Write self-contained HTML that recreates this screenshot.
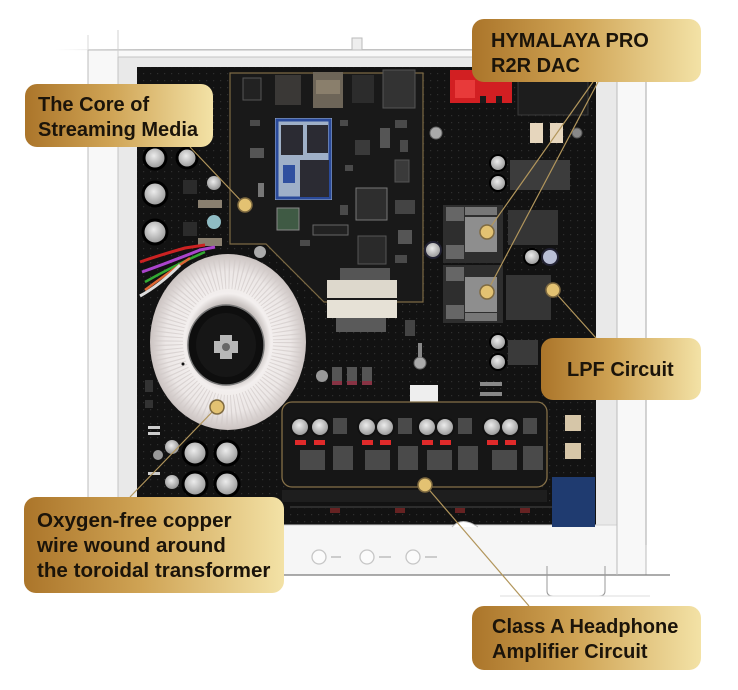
<!DOCTYPE html>
<html><head><meta charset="utf-8">
<style>
html,body{margin:0;padding:0;background:#fff;}
svg{display:block;}
text.l{font-family:"Liberation Sans",Arial,sans-serif;font-weight:bold;font-size:20px;fill:#1b140a;}
</style></head><body>
<svg width="738" height="690" viewBox="0 0 738 690" xmlns="http://www.w3.org/2000/svg">
<defs>
<linearGradient id="gold" x1="0" y1="0" x2="1" y2="0">
<stop offset="0" stop-color="#ab752a"/>
<stop offset="0.45" stop-color="#cfa354"/>
<stop offset="1" stop-color="#f3e2a6"/>
</linearGradient>
<radialGradient id="tor" cx="0.5" cy="0.5" r="0.5">
<stop offset="0.42" stop-color="#bdb6b4"/>
<stop offset="0.55" stop-color="#f3efee"/>
<stop offset="0.8" stop-color="#ece7e6"/>
<stop offset="1" stop-color="#cbc3c1"/>
</radialGradient>
<radialGradient id="cap" cx="0.45" cy="0.4" r="0.6">
<stop offset="0" stop-color="#ececec"/>
<stop offset="1" stop-color="#959595"/>
</radialGradient>
<linearGradient id="fade" x1="0" y1="0" x2="1" y2="0">
<stop offset="0" stop-color="#ddd" stop-opacity="0"/>
<stop offset="0.15" stop-color="#c8c8c8"/>
<stop offset="1" stop-color="#c8c8c8"/>
</linearGradient>
<pattern id="dots" width="7" height="7" patternUnits="userSpaceOnUse">
<rect x="3" y="3" width="1.2" height="1.2" fill="#2e2e2e"/>
</pattern>
</defs>

<!-- chassis -->
<rect x="55" y="49" width="600" height="1.2" fill="url(#fade)"/>
<rect x="88" y="50" width="558" height="525" fill="#f8f8f8" stroke="#bdbdbd" stroke-width="1"/>
<rect x="118" y="57" width="499" height="470" fill="#e9e9e9" stroke="#c4c4c4" stroke-width="1"/>
<line x1="118" y1="30" x2="118" y2="57" stroke="#d0d0d0"/>
<line x1="88" y1="35" x2="88" y2="50" stroke="#d8d8d8"/>
<rect x="352" y="38" width="10" height="12" fill="#eee" stroke="#bbb"/>
<!-- PCB -->
<rect x="137" y="67" width="459" height="458" fill="#121212"/>
<rect x="137" y="67" width="459" height="458" fill="url(#dots)"/>
<!-- front panel -->
<rect x="118" y="525" width="499" height="50" fill="#f6f6f6" stroke="#d2d2d2"/>
<line x1="284" y1="575" x2="670" y2="575" stroke="#7a7a7a" stroke-width="1.3"/>
<line x1="617" y1="50" x2="617" y2="575" stroke="#bbb"/>
<line x1="646" y1="82" x2="646" y2="545" stroke="#aaa"/>
<path d="M547,566 V591 Q547,596 553,596 H599 Q605,596 605,591 V566" fill="none" stroke="#999"/>
<line x1="500" y1="596" x2="650" y2="596" stroke="#ddd"/>
<circle cx="319" cy="557" r="7" fill="#fbfbfb" stroke="#c6c6c6" stroke-width="1.3"/>
<circle cx="367" cy="557" r="7" fill="#fbfbfb" stroke="#c6c6c6" stroke-width="1.3"/>
<circle cx="413" cy="557" r="7" fill="#fbfbfb" stroke="#c6c6c6" stroke-width="1.3"/>
<rect x="331" y="556" width="10" height="2" fill="#ccc"/>
<rect x="379" y="556" width="12" height="2" fill="#ccc"/>
<rect x="425" y="556" width="12" height="2" fill="#ccc"/>
<path d="M452,527 Q462,516 478,527" fill="#fff" stroke="#bbb"/>

<!-- streaming board -->
<path d="M230,73 H423 V302 H324 L266,244 H230 Z" fill="#191919" stroke="#7d6a44" stroke-width="1.2"/>
<rect x="243" y="78" width="18" height="22" fill="#222" stroke="#555"/>
<rect x="275" y="75" width="26" height="30" fill="#3a3836"/>
<rect x="313" y="72" width="30" height="36" fill="#6d6558"/>
<rect x="316" y="80" width="24" height="14" fill="#8a7f6c"/>
<rect x="352" y="75" width="22" height="28" fill="#2c2c2c"/>
<rect x="383" y="70" width="32" height="38" fill="#333" stroke="#555"/>
<rect x="275" y="118" width="57" height="82" fill="#9fb0c8"/>
<rect x="277" y="120" width="53" height="78" fill="none" stroke="#2a4a9a" stroke-width="3"/>
<rect x="281" y="125" width="22" height="30" fill="#2b2b33"/>
<rect x="307" y="125" width="21" height="28" fill="#2b2b33"/>
<rect x="300" y="160" width="29" height="37" fill="#2b2b33"/>
<rect x="283" y="165" width="12" height="18" fill="#3050a0"/>
<rect x="356" y="188" width="31" height="32" fill="#2e2e2e" stroke="#777"/>
<rect x="358" y="236" width="28" height="28" fill="#2a2a2a" stroke="#555"/>
<rect x="355" y="140" width="15" height="15" fill="#3a3a3a"/>
<rect x="395" y="160" width="14" height="22" fill="#3a3a3a" stroke="#555"/>
<rect x="380" y="128" width="10" height="20" fill="#555"/>
<rect x="250" y="148" width="14" height="10" fill="#555"/>
<rect x="258" y="183" width="6" height="14" fill="#777"/>
<rect x="277" y="208" width="22" height="22" fill="#3f5a44" stroke="#888"/>
<rect x="313" y="225" width="35" height="10" fill="#222" stroke="#666"/>
<rect x="395" y="200" width="20" height="14" fill="#444"/>
<rect x="398" y="230" width="14" height="14" fill="#555"/>
<g fill="#4a4a4a">
<rect x="340" y="120" width="8" height="6"/><rect x="345" y="165" width="8" height="6"/>
<rect x="395" y="120" width="12" height="8"/><rect x="400" y="140" width="8" height="12"/>
<rect x="340" y="205" width="8" height="10"/><rect x="395" y="255" width="12" height="8"/>
<rect x="300" y="240" width="10" height="6"/><rect x="250" y="120" width="10" height="6"/>
</g>
<rect x="340" y="268" width="50" height="12" fill="#555"/>
<rect x="327" y="280" width="70" height="18" fill="#ddd8cc"/>
<rect x="327" y="300" width="70" height="18" fill="#e6e1d6"/>
<rect x="336" y="318" width="50" height="14" fill="#5a5a5a"/>
<circle cx="436" cy="133" r="6" fill="#aaa" stroke="#666"/>
<circle cx="577" cy="133" r="5" fill="#888" stroke="#555"/>
<circle cx="420" cy="363" r="6" fill="#aaa" stroke="#666"/>
<rect x="418" y="343" width="4" height="14" fill="#888"/>
<rect x="405" y="320" width="10" height="16" fill="#444"/>

<!-- left caps -->
<circle cx="155" cy="158" r="11" fill="url(#cap)" stroke="#000" stroke-width="3"/>
<circle cx="187" cy="158" r="10" fill="url(#cap)" stroke="#000" stroke-width="3"/>
<circle cx="155" cy="194" r="12" fill="url(#cap)" stroke="#000" stroke-width="3"/>
<circle cx="155" cy="232" r="12" fill="url(#cap)" stroke="#000" stroke-width="3"/>
<circle cx="214" cy="183" r="7" fill="url(#cap)"/>
<circle cx="214" cy="222" r="7" fill="#8fbcc4"/>
<rect x="183" y="180" width="14" height="14" fill="#2b2b2b"/>
<rect x="198" y="200" width="24" height="8" fill="#8a8070"/>
<rect x="183" y="222" width="14" height="14" fill="#2b2b2b"/>
<rect x="198" y="238" width="24" height="8" fill="#8a8070"/>
<!-- wires -->
<path d="M140,262 Q160,255 185,248 L205,245" fill="none" stroke="#c22" stroke-width="3"/>
<path d="M142,272 Q170,262 200,250 L215,247" fill="none" stroke="#a4c" stroke-width="3"/>
<path d="M145,282 Q175,265 205,252" fill="none" stroke="#3a3" stroke-width="2.5"/>
<path d="M145,290 Q165,275 190,258" fill="none" stroke="#d63" stroke-width="2.5"/>
<path d="M140,296 Q160,285 180,265" fill="none" stroke="#ddd" stroke-width="3"/>

<!-- transformer -->
<ellipse cx="228" cy="342" rx="78" ry="88" fill="url(#tor)"/>
<ellipse cx="228" cy="342" rx="60" ry="68" fill="none" stroke="#d2cbc9" stroke-width="30" stroke-dasharray="1.2 3" opacity="0.7"/>
<ellipse cx="226" cy="345" rx="38" ry="40" fill="#0e0e0e" stroke="#777" stroke-width="1.5"/>
<ellipse cx="226" cy="345" rx="30" ry="32" fill="#161616"/>
<path d="M220,335 h12 v6 h6 v12 h-6 v6 h-12 v-6 h-6 v-12 h6 Z" fill="#b8b8b8"/>
<circle cx="226" cy="347" r="4" fill="#666"/>
<circle cx="183" cy="364" r="1.5" fill="#111"/>
<circle cx="260" cy="252" r="6" fill="#aaa"/>

<!-- bottom left caps -->
<circle cx="195" cy="453" r="12" fill="url(#cap)" stroke="#000" stroke-width="3"/>
<circle cx="227" cy="453" r="12" fill="url(#cap)" stroke="#000" stroke-width="3"/>
<circle cx="195" cy="484" r="12" fill="url(#cap)" stroke="#000" stroke-width="3"/>
<circle cx="227" cy="484" r="12" fill="url(#cap)" stroke="#000" stroke-width="3"/>
<circle cx="172" cy="447" r="7" fill="url(#cap)"/>
<circle cx="172" cy="482" r="7" fill="url(#cap)"/>
<circle cx="158" cy="455" r="5" fill="#999"/>
<rect x="148" y="426" width="12" height="3" fill="#ccc"/>
<rect x="148" y="432" width="12" height="3" fill="#ccc"/>
<rect x="148" y="472" width="12" height="3" fill="#ccc"/>
<rect x="145" y="380" width="8" height="12" fill="#333"/>
<rect x="145" y="400" width="8" height="8" fill="#333"/>

<!-- middle small comps -->
<circle cx="322" cy="376" r="6" fill="#999"/>
<rect x="332" y="367" width="10" height="14" fill="#555"/>
<rect x="347" y="367" width="10" height="14" fill="#555"/>
<rect x="362" y="367" width="10" height="14" fill="#555"/>
<rect x="332" y="381" width="10" height="4" fill="#834"/>
<rect x="347" y="381" width="10" height="4" fill="#834"/>
<rect x="362" y="381" width="10" height="4" fill="#834"/>
<rect x="480" y="382" width="22" height="4" fill="#888"/>
<rect x="480" y="392" width="22" height="4" fill="#888"/>

<!-- DAC region -->
<rect x="450" y="70" width="62" height="33" fill="#d21f22"/>
<rect x="455" y="80" width="20" height="18" fill="#e83a3a"/>
<rect x="480" y="96" width="6" height="7" fill="#1a1a1a"/>
<rect x="496" y="96" width="6" height="7" fill="#1a1a1a"/>
<rect x="518" y="80" width="70" height="35" fill="#1d1d1d" stroke="#3a3a3a"/>
<rect x="530" y="123" width="13" height="20" fill="#e6d6bd"/>
<rect x="550" y="123" width="13" height="20" fill="#e6d6bd"/>
<circle cx="498" cy="163" r="8" fill="url(#cap)" stroke="#000" stroke-width="2"/>
<circle cx="498" cy="183" r="8" fill="url(#cap)" stroke="#000" stroke-width="2"/>
<circle cx="433" cy="250" r="8" fill="url(#cap)" stroke="#223" stroke-width="2"/>
<circle cx="532" cy="257" r="8" fill="url(#cap)" stroke="#000" stroke-width="2"/>
<circle cx="550" cy="257" r="8" fill="#b9bfd6" stroke="#223" stroke-width="2"/>
<circle cx="498" cy="342" r="8" fill="url(#cap)" stroke="#000" stroke-width="2"/>
<circle cx="498" cy="362" r="8" fill="url(#cap)" stroke="#000" stroke-width="2"/>
<rect x="510" y="160" width="60" height="30" fill="#3c3c3c"/>
<rect x="508" y="210" width="50" height="35" fill="#353535"/>
<rect x="506" y="275" width="45" height="45" fill="#353535"/>
<rect x="508" y="340" width="30" height="25" fill="#3a3a3a"/>
<rect x="443" y="205" width="60" height="58" fill="#2e2e2e"/>
<rect x="446" y="207" width="18" height="14" fill="#666"/>
<rect x="446" y="245" width="18" height="14" fill="#666"/>
<rect x="465" y="207" width="32" height="8" fill="#777"/>
<rect x="465" y="217" width="32" height="35" fill="#8e8e8e"/>
<rect x="443" y="265" width="60" height="58" fill="#2e2e2e"/>
<rect x="446" y="267" width="18" height="14" fill="#666"/>
<rect x="446" y="305" width="18" height="14" fill="#666"/>
<rect x="465" y="313" width="32" height="8" fill="#777"/>
<rect x="465" y="277" width="32" height="35" fill="#8e8e8e"/>

<!-- amp box -->
<rect x="410" y="385" width="28" height="28" fill="#eee"/>
<rect x="282" y="402" width="265" height="85" rx="10" fill="#161616" stroke="#857048" stroke-width="1.3"/>
<g fill="url(#cap)" stroke="#111" stroke-width="2">
<circle cx="300" cy="427" r="9"/><circle cx="320" cy="427" r="9"/>
<circle cx="367" cy="427" r="9"/><circle cx="385" cy="427" r="9"/>
<circle cx="427" cy="427" r="9"/><circle cx="445" cy="427" r="9"/>
<circle cx="492" cy="427" r="9"/><circle cx="510" cy="427" r="9"/>
</g>
<g fill="#e02a2a">
<rect x="295" y="440" width="11" height="5"/><rect x="314" y="440" width="11" height="5"/>
<rect x="362" y="440" width="11" height="5"/><rect x="380" y="440" width="11" height="5"/>
<rect x="422" y="440" width="11" height="5"/><rect x="440" y="440" width="11" height="5"/>
<rect x="487" y="440" width="11" height="5"/><rect x="505" y="440" width="11" height="5"/>
</g>
<g fill="#4a4a4a">
<rect x="333" y="418" width="14" height="16"/><rect x="398" y="418" width="14" height="16"/>
<rect x="458" y="418" width="14" height="16"/><rect x="523" y="418" width="14" height="16"/>
<rect x="300" y="450" width="25" height="20"/><rect x="333" y="446" width="20" height="24"/>
<rect x="365" y="450" width="25" height="20"/><rect x="398" y="446" width="20" height="24"/>
<rect x="427" y="450" width="25" height="20"/><rect x="458" y="446" width="20" height="24"/>
<rect x="492" y="450" width="25" height="20"/><rect x="523" y="446" width="20" height="24"/>
</g>
<rect x="282" y="490" width="265" height="12" fill="#1e1e1e"/>
<rect x="290" y="506" width="300" height="2" fill="#2d2d2d"/>
<rect x="330" y="508" width="10" height="5" fill="#622"/>
<rect x="395" y="508" width="10" height="5" fill="#622"/>
<rect x="455" y="508" width="10" height="5" fill="#622"/>
<rect x="520" y="508" width="10" height="5" fill="#622"/>
<rect x="552" y="477" width="43" height="50" fill="#1f3b70"/>
<rect x="565" y="415" width="16" height="16" fill="#d6c6a8"/>
<rect x="565" y="443" width="16" height="16" fill="#d6c6a8"/>

<!-- connector lines -->
<g stroke="#b2965c" stroke-width="1.2" fill="none">
<line x1="245" y1="205" x2="190" y2="147"/>
<line x1="487" y1="232" x2="593" y2="82"/>
<line x1="487" y1="292" x2="598" y2="82"/>
<line x1="553" y1="290" x2="596" y2="338"/>
<line x1="217" y1="407" x2="130" y2="497"/>
<line x1="425" y1="485" x2="529" y2="606"/>
</g>
<!-- dots -->
<g fill="#e3c272" stroke="#7f6a40" stroke-width="1.5">
<circle cx="245" cy="205" r="7"/>
<circle cx="487" cy="232" r="7"/>
<circle cx="487" cy="292" r="7"/>
<circle cx="553" cy="290" r="7"/>
<circle cx="217" cy="407" r="7"/>
<circle cx="425" cy="485" r="7"/>
</g>

<!-- labels -->
<rect x="25" y="84" width="188" height="63" rx="12" fill="url(#gold)"/>
<text class="l" x="38" y="111">The Core of</text>
<text class="l" x="38" y="136">Streaming Media</text>

<rect x="472" y="19" width="229" height="63" rx="12" fill="url(#gold)"/>
<text class="l" x="491" y="47">HYMALAYA PRO</text>
<text class="l" x="491" y="72">R2R DAC</text>

<rect x="541" y="338" width="160" height="62" rx="12" fill="url(#gold)"/>
<text class="l" x="567" y="376">LPF Circuit</text>

<rect x="24" y="497" width="260" height="96" rx="12" fill="url(#gold)"/>
<text class="l" x="37" y="527" style="font-size:20.6px">Oxygen-free copper</text>
<text class="l" x="37" y="552" style="font-size:20.6px">wire wound around</text>
<text class="l" x="37" y="577" style="font-size:20.6px">the toroidal transformer</text>

<rect x="472" y="606" width="229" height="64" rx="12" fill="url(#gold)"/>
<text class="l" x="492" y="633">Class A Headphone</text>
<text class="l" x="492" y="658">Amplifier Circuit</text>
</svg>
</body></html>
